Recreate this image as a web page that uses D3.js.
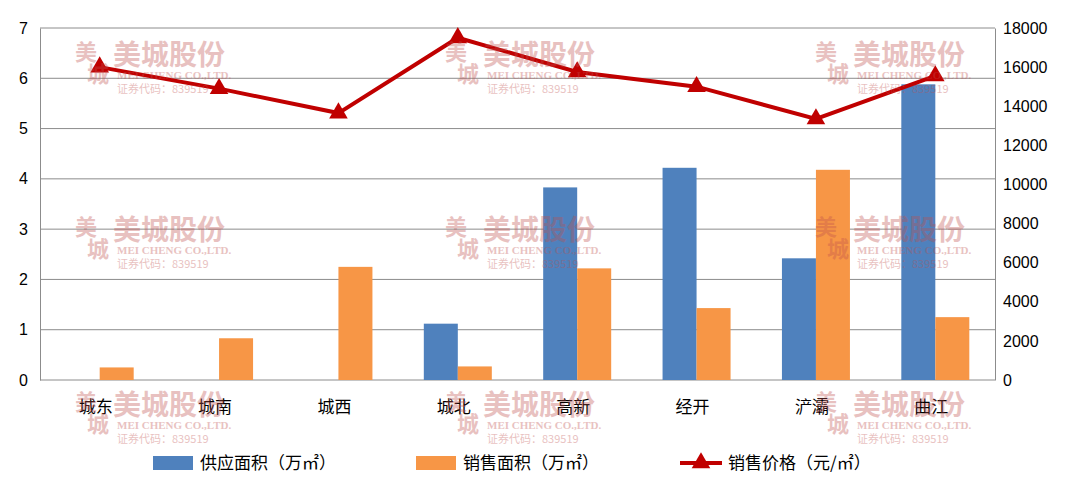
<!DOCTYPE html>
<html><head><meta charset="utf-8">
<script src="https://cdn.jsdelivr.net/npm/d3@7/dist/d3.min.js"></script>
<style>body{margin:0;background:#fff}svg{font-family:"DejaVu Sans",sans-serif}</style>
</head><body><svg id="c" width="1080" height="498"></svg>
<script>
const categories=["城东","城南","城西","城北","高新","经开","浐灞","曲江"];
const supply=[0,0,0,1.12,3.83,4.22,2.42,5.88];
const sales=[0.25,0.83,2.25,0.27,2.22,1.43,4.18,1.25];
const price=[16000,14900,13650,17500,15750,15000,13350,15550];
const leftTicks=[0,1,2,3,4,5,6,7];
const rightTicks=[0,2000,4000,6000,8000,10000,12000,14000,16000,18000];
const legendLabels=["供应面积（万㎡）","销售面积（万㎡）","销售价格（元/㎡）"];

const svg=d3.select("#c");
const L=40,R=995,T=28,B=380;
const x=d3.scaleBand().domain(categories).range([L,R]);
const y=d3.scaleLinear().domain([0,7]).range([B,T]);
const y2=d3.scaleLinear().domain([0,18000]).range([B,T]);

svg.append("g").selectAll("line").data(leftTicks).join("line")
 .attr("x1",L).attr("x2",R).attr("y1",d=>y(d)).attr("y2",d=>y(d)).attr("stroke","#8c8c8c").attr("stroke-width",1);

const gl=svg.append("g").attr("transform",`translate(${L},0)`).call(d3.axisLeft(y).tickValues(leftTicks).tickSize(0).tickPadding(12).tickFormat(d3.format("d")));
const gr=svg.append("g").attr("transform",`translate(${R},0)`).call(d3.axisRight(y2).tickValues(rightTicks).tickSize(0).tickPadding(8).tickFormat(d3.format("d")));
[gl,gr].forEach(g=>{g.select(".domain").attr("stroke","#8c8c8c");g.selectAll("text").attr("font-size",16).attr("fill","#000");});

const bw=34;
svg.append("g").selectAll("rect").data(supply).join("rect")
 .attr("x",(d,i)=>x(categories[i])+x.bandwidth()/2-bw).attr("width",bw)
 .attr("y",d=>y(d)).attr("height",d=>B-y(d)).attr("fill","#4f81bd");
svg.append("g").selectAll("rect").data(sales).join("rect")
 .attr("x",(d,i)=>x(categories[i])+x.bandwidth()/2).attr("width",bw)
 .attr("y",d=>y(d)).attr("height",d=>B-y(d)).attr("fill","#f79646");

const cx=(d,i)=>x(categories[i])+x.bandwidth()/2;
svg.append("path").datum(price).attr("fill","none").attr("stroke","#c00000").attr("stroke-width",4)
 .attr("d",d3.line().x(cx).y(d=>y2(d)));
const tri=d3.symbol().type(d3.symbolTriangle).size(150);
svg.append("g").selectAll("path").data(price).join("path").attr("d",tri)
 .attr("transform",(d,i)=>`translate(${cx(d,i)},${y2(d)})`).attr("fill","#c00000");

svg.append("g").selectAll("text").data(categories).join("text")
 .attr("x",(d)=>x(d)+x.bandwidth()/2-4).attr("y",413).attr("text-anchor","middle")
 .attr("font-size",17).attr("font-family","Noto Sans CJK SC").text(d=>d);

// watermarks
const wm=[[75,40],[445,40],[815,40],[75,215],[445,215],[815,215],[75,390],[445,390],[815,390]];
const w=svg.append("g").attr("opacity",0.35).attr("fill","#c0504d");
wm.forEach(([a,b])=>{
 w.append("text").attr("x",a).attr("y",b+20).attr("font-size",22).attr("font-family","Noto Sans CJK SC").attr("font-weight","bold").text("美");
 w.append("text").attr("x",a+12).attr("y",b+42).attr("font-size",22).attr("font-family","Noto Sans CJK SC").attr("font-weight","bold").text("城");
 w.append("text").attr("x",a+38).attr("y",b+25).attr("font-size",28).attr("font-family","Noto Sans CJK SC").attr("font-weight","bold").text("美城股份");
 w.append("text").attr("x",a+42).attr("y",b+39).attr("font-size",11).attr("font-family","Liberation Serif").attr("font-weight","bold").text("MEI CHENG CO.,LTD.");
 w.append("text").attr("x",a+42).attr("y",b+53).attr("font-size",11).attr("font-family","Noto Sans CJK SC").text("证券代码：839519");
});

// legend
const lg=svg.append("g").attr("font-size",17).attr("font-family","Noto Sans CJK SC");
lg.append("rect").attr("x",153).attr("y",456).attr("width",40).attr("height",14).attr("fill","#4f81bd");
lg.append("text").attr("x",200).attr("y",469).text(legendLabels[0]);
lg.append("rect").attr("x",416).attr("y",456).attr("width",40).attr("height",14).attr("fill","#f79646");
lg.append("text").attr("x",463).attr("y",469).text(legendLabels[1]);
lg.append("line").attr("x1",680).attr("x2",722).attr("y1",463).attr("y2",463).attr("stroke","#c00000").attr("stroke-width",4);
lg.append("path").attr("d",tri).attr("transform","translate(701,463)").attr("fill","#c00000");
lg.append("text").attr("x",728).attr("y",469).text(legendLabels[2]);
</script></body></html>
